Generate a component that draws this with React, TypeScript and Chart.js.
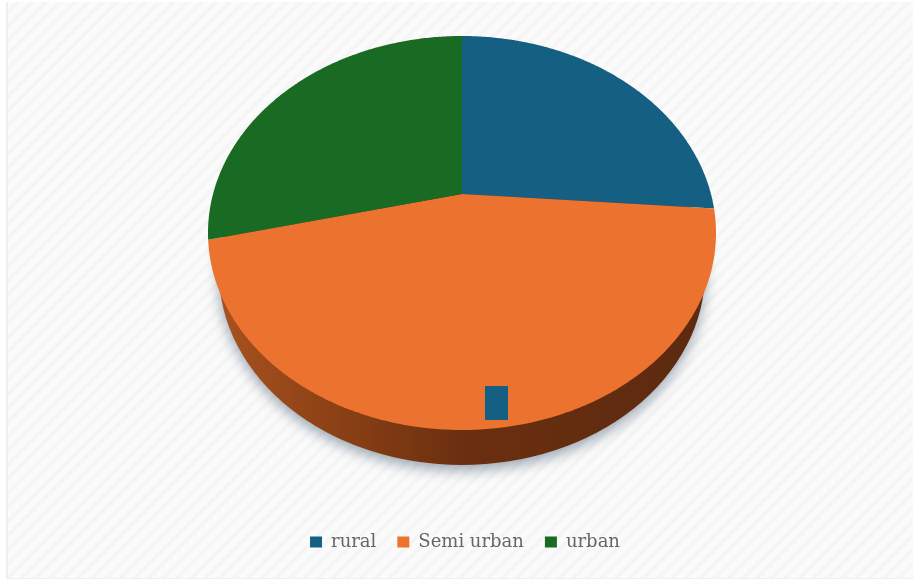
import React, { useEffect, useRef } from "react";
import { Chart, registerables } from "chart.js";

Chart.register(...registerables);

const categories = ["rural", "Semi urban", "urban"];
const shares = [26.2, 45.1, 28.7];
const sliceColors = ["#156082", "#EC7230", "#196B24"];

const WIDTH = 913;
const HEIGHT = 583;

// Tilted-disc geometry: the top face is an ellipse seen in perspective,
// so the true centre of the pie sits above the centre of the ellipse.
const stretchX = 254 / 197;
const pieRadius = 197;
const shiftX = -3;
const liftY = -41;
const apexShift = -0.198;
const wall = { rx: 243, ry: 193, dy: 39 };
const keyChip = { dx: 23, dy: 153, w: 23, h: 34 };

const tiltedPie = {
  id: "tiltedPie",
  beforeDatasetsDraw(chart: any) {
    const { ctx } = chart;
    const arcs = chart.getDatasetMeta(0).data;
    if (!arcs.length) return false;
    const cx = arcs[0].x + shiftX;
    const cy = arcs[0].y + liftY;
    const R = arcs[0].outerRadius;
    const k = Math.sqrt(1 - apexShift * apexShift);

    const rimPoint = (theta: number) => {
      const u = Math.cos(theta);
      const v = Math.sin(theta);
      const d = 1 + apexShift * v;
      return [cx + R * stretchX * ((u * k) / d), cy + R * ((v + apexShift) / d)];
    };

    // Side wall with its soft drop shadow
    ctx.save();
    const wallFill = ctx.createLinearGradient(cx - wall.rx, 0, cx + wall.rx, 0);
    wallFill.addColorStop(0, "#A8511E");
    wallFill.addColorStop(0.22, "#8E4216");
    wallFill.addColorStop(0.5, "#6B2F10");
    wallFill.addColorStop(1, "#5C2A10");
    ctx.shadowColor = "rgba(85,105,125,0.6)";
    ctx.shadowBlur = 14;
    ctx.shadowOffsetY = 5;
    ctx.fillStyle = wallFill;
    ctx.beginPath();
    ctx.ellipse(cx, cy + wall.dy, wall.rx, wall.ry, 0, 0, Math.PI * 2);
    ctx.fill();
    ctx.restore();

    // Top face: each wedge runs from the shifted apex out along the rim
    const [ax, ay] = [cx, cy + R * apexShift];
    arcs.forEach((arc: any) => {
      ctx.beginPath();
      ctx.moveTo(ax, ay);
      const steps = Math.ceil((arc.endAngle - arc.startAngle) / 0.01);
      for (let i = 0; i <= steps; i++) {
        const t = arc.startAngle + ((arc.endAngle - arc.startAngle) * i) / steps;
        const [x, y] = rimPoint(t);
        ctx.lineTo(x, y);
      }
      ctx.closePath();
      ctx.fillStyle = arc.options.backgroundColor;
      ctx.fill();
    });

    // Small leftover legend chip sitting on the orange wedge
    ctx.fillStyle = sliceColors[0];
    ctx.fillRect(cx + keyChip.dx, cy + keyChip.dy, keyChip.w, keyChip.h);

    return false;
  },
};

export default function App() {
  const ref = useRef<HTMLCanvasElement>(null);

  useEffect(() => {
    document.body.style.margin = "0";
    const chart = new Chart(ref.current as HTMLCanvasElement, {
      type: "pie",
      data: {
        labels: categories,
        datasets: [{ data: shares, backgroundColor: sliceColors, borderWidth: 0, radius: pieRadius }],
      },
      options: {
        animation: false,
        responsive: false,
        events: [],
        layout: { padding: { left: 17, top: 36, bottom: 22 } },
        plugins: {
          tooltip: { enabled: false },
          legend: {
            position: "bottom",
            labels: {
              boxWidth: 12,
              boxHeight: 11,
              padding: 21,
              color: "#666666",
              font: { family: "'DejaVu Serif'", size: 18 },
            },
          },
        },
      },
      plugins: [tiltedPie],
    } as any);
    return () => chart.destroy();
  }, []);

  return (
    <div
      style={{
        position: "relative",
        width: WIDTH,
        height: HEIGHT,
        overflow: "hidden",
        background: "#FFFFFF",
      }}
    >
      <div
        style={{
          position: "absolute",
          left: 6,
          top: 2,
          right: 0,
          bottom: 4,
          borderLeft: "2px solid #EFEFEF",
          borderBottom: "1px solid #EFEFEF",
          background:
            "repeating-linear-gradient(135deg, #FBFBFB 0px, #FBFBFB 4px, #F5F5F5 6px, #F5F5F5 8px, #FBFBFB 10px)",
        }}
      />
      <canvas ref={ref} width={WIDTH} height={HEIGHT} style={{ position: "relative", display: "block" }} />
    </div>
  );
}
